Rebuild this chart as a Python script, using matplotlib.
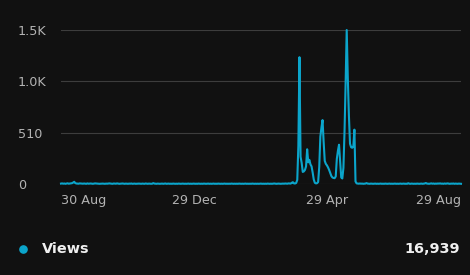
import numpy as np
import pandas as pd
import matplotlib.pyplot as plt
from matplotlib.lines import Line2D

plt.rcParams['font.family'] = ['DejaVu Sans']

# daily views, 30 Aug 2022 .. 29 Aug 2023
start_date = "2022-08-30"
views_before = [
    4, 6, 3, 5, 2, 4, 7, 3, 5, 6, 8, 14, 22, 9, 5, 4, 3, 6, 5, 4,
    3, 5, 4, 2, 6, 3, 4, 5, 3, 2, 4, 6, 5, 3, 4, 2, 3, 5, 4, 3,
    2, 4, 3, 5, 6, 4, 3, 2, 5, 4, 3, 6, 4, 2, 3, 4, 5, 3, 2, 4,
    3, 2, 4, 3, 5, 2, 3, 4, 2, 3, 5, 4, 3, 2, 4, 3, 2, 5, 3, 2,
    4, 3, 2, 3, 9, 4, 3, 2, 4, 3, 2, 3, 4, 2, 3, 5, 2, 3, 4, 2,
    3, 2, 4, 3, 2, 3, 2, 4, 3, 2, 3, 4, 2, 3, 2, 3, 4, 2, 3, 2,
    3, 4, 2, 3, 2, 4, 3, 2, 3, 2, 4, 3, 2, 3, 4, 2, 3, 2, 3, 4,
    2, 3, 2, 4, 3, 2, 3, 2, 3, 4, 2, 3, 2, 3, 2, 4, 3, 2, 3, 2,
    3, 2, 4, 3, 2, 3, 2, 3, 4, 2, 3, 2, 3, 2, 4, 3, 2, 3, 2, 3,
    2, 3, 4, 2, 3, 2, 3, 2, 4, 3, 2, 3, 2, 3, 5, 3, 2, 3, 4, 3,
    2, 3, 4, 3, 5, 4, 3, 6, 5, 4, 12, 18, 6, 5,
]
views_surge = [
    10, 40, 380, 1260, 270, 210, 120, 125, 140, 175,
    345, 215, 240, 195, 175, 115, 45, 12, 6, 8,
    20, 170, 470, 560, 635, 420, 230, 200, 185, 165,
    140, 110, 80, 65, 60, 58, 75, 250, 330, 390,
    235, 65, 55, 160, 520, 1000, 1530, 1050, 680, 400,
    365, 360, 370, 540, 25, 6,
]
views_after = [
    4, 3, 5, 3, 4, 2, 3, 4, 9, 4, 3, 2, 4, 3, 2, 3, 4, 2, 3, 2,
    3, 4, 2, 3, 2, 4, 3, 2, 3, 4, 2, 3, 2, 3, 4, 2, 3, 2, 3, 4,
    2, 3, 4, 2, 3, 2, 8, 3, 2, 4, 3, 2, 3, 2, 4, 3, 2, 3, 4, 2,
    3, 5, 10, 4, 3, 2, 4, 6, 3, 5, 2, 4, 3, 5, 4, 6, 3, 4, 2, 5,
    3, 4, 6, 3, 2, 4, 3, 5, 2, 4, 3, 2, 4, 3, 2,
]
tick_dates = ["2022-08-30", "2022-12-29", "2023-04-29", "2023-08-29"]
tick_labels = ["30 Aug", "29 Dec", "29 Apr", "29 Aug"]
y_ticks = [0, 510, 1020, 1530]
y_labels = ["0", "510", "1.0K", "1.5K"]
series_name = "Views"
total_label = "16,939"

views = np.array(views_before + views_surge + views_after)
dates = pd.date_range(start_date, periods=len(views), freq="D")

BG = "#111111"
LINE = "#0ba5cb"
TXT = "#b3b3b3"

fig = plt.figure(figsize=(4.7, 2.75), dpi=100, facecolor=BG)
ax = fig.add_axes([61 / 470, 1 - 184 / 275, 400 / 470, 154 / 275])
ax.set_facecolor(BG)
ax.plot(dates, views, color=LINE, lw=1.5, clip_on=False, zorder=3)
ax.set_xlim(dates[0], dates[-1])
ax.set_ylim(0, 1530)

ax.set_yticks(y_ticks, y_labels)
ax.grid(axis="y", color="#3d3d3d", lw=0.8)
ax.grid(axis="x", visible=False)
for s in ax.spines.values():
    s.set_visible(False)
ax.tick_params(axis="y", length=0, pad=31, labelcolor=TXT, labelsize=9.2)
for t in ax.get_yticklabels():
    t.set_horizontalalignment("left")

ax.set_xticks(pd.to_datetime(tick_dates), tick_labels)
ax.tick_params(axis="x", length=0, pad=7, labelcolor=TXT, labelsize=9.2)
xt = ax.get_xticklabels()
xt[0].set_horizontalalignment("left")
xt[-1].set_horizontalalignment("right")

# legend row
ly = 1 - 249 / 275
fig.add_artist(Line2D([23 / 470], [ly], marker="o", ms=5.2, color=LINE,
                      transform=fig.transFigure))
fig.text(42 / 470, ly, series_name, color="#f0f0f0", fontsize=10.4,
         fontweight="bold", va="center", ha="left")
fig.text(460 / 470, ly, total_label, color="#f0f0f0", fontsize=10.4,
         fontweight="bold", va="center", ha="right")

fig.savefig("out.png", dpi=100, facecolor=BG)
